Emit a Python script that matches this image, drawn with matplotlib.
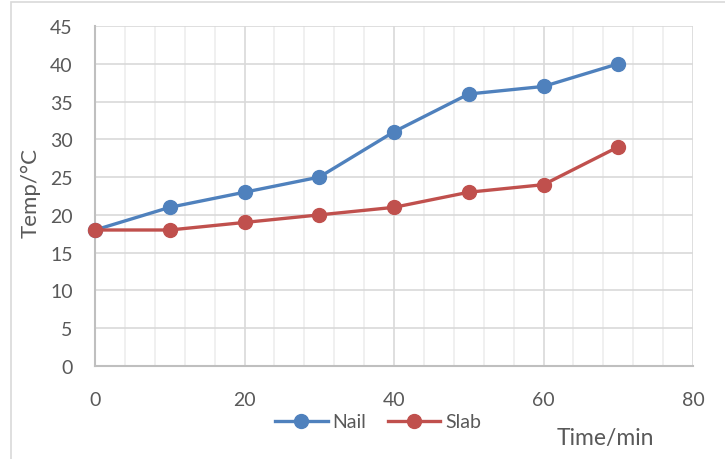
import matplotlib.pyplot as plt
from matplotlib.patches import Rectangle
from matplotlib.ticker import MultipleLocator

# temperature readings
time_min = [0, 10, 20, 30, 40, 50, 60, 70]
nail_temp = [18, 21, 23, 25, 31, 36, 37, 40]
slab_temp = [18, 18, 19, 20, 21, 23, 24, 29]

x_ticks = [0, 20, 40, 60, 80]
y_ticks = [0, 5, 10, 15, 20, 25, 30, 35, 40, 45]

txt = '#595959'
plt.rcParams['font.family'] = ['Lato', 'DejaVu Sans']

fig = plt.figure(figsize=(7.25, 4.6), dpi=100)
ax = fig.add_axes([95 / 725, 1 - 367 / 460, 598 / 725, 340 / 460])

# outer chart frame
fig.patches.append(Rectangle((11 / 725, -0.05), 1.0, 1 - 3 / 460 + 0.05,
                             transform=fig.transFigure, fill=False,
                             edgecolor='#D9D9D9', linewidth=1.2))

ax.plot(time_min, nail_temp, color='#4F81BD', lw=2.4, marker='o', ms=10,
        label='Nail', clip_on=False, zorder=4)
ax.plot(time_min, slab_temp, color='#C0504D', lw=2.4, marker='o', ms=10,
        label='Slab', clip_on=False, zorder=4)

ax.set_xlim(0, 80)
ax.set_ylim(0, 45)
ax.set_xticks(x_ticks)
ax.set_yticks(y_ticks)
ax.xaxis.set_minor_locator(MultipleLocator(4))
ax.grid(True, which='major', color='#D9D9D9', lw=1.2, zorder=0)
ax.grid(True, which='minor', axis='x', color='#EDEDED', lw=1.2, zorder=0)
ax.set_axisbelow(True)
ax.tick_params(which='both', length=0, labelsize=14, labelcolor=txt)
ax.tick_params(axis='x', pad=18)
ax.tick_params(axis='y', pad=16)

for side in ['top', 'right']:
    ax.spines[side].set_visible(False)
for side in ['left', 'bottom']:
    ax.spines[side].set_color('#BFBFBF')
    ax.spines[side].set_linewidth(1.5)

fig.text(31 / 725, 1 - 193 / 460, 'Temp/°C', fontsize=16, color=txt,
         rotation=90, ha='center', va='center')
fig.text(605 / 725, 1 - 438 / 460, 'Time/min', fontsize=16.5, color=txt,
         ha='center', va='center')

fig.legend(loc='center', bbox_to_anchor=(378 / 725, 1 - 423 / 460), ncol=2,
           frameon=False, fontsize=14, labelcolor=txt, handlelength=2.7,
           handletextpad=0.25, columnspacing=1.1)

fig.savefig('out.png', dpi=100)
